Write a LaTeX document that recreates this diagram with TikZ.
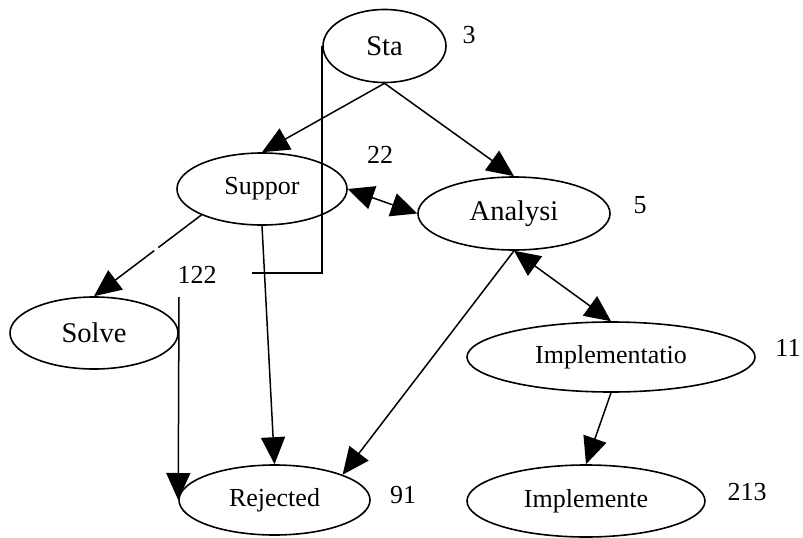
\documentclass[tikz,border=0pt]{standalone}
\usepackage{fontspec}
\setmainfont{Liberation Serif}
\usetikzlibrary{shapes.geometric,arrows.meta}
\begin{document}
\begin{tikzpicture}[x=1pt,y=-1pt,
  state/.style={draw,ellipse,line width=1.6pt,inner sep=0pt},
  big/.style={font=\fontsize{28.5}{32}\selectfont},
  small/.style={font=\fontsize{26}{30}\selectfont},
  lbl/.style={font=\fontsize{26}{30}\selectfont,inner sep=0pt},
  conn/.style={line width=1.5pt},
  arr/.style={conn,-{Triangle[length=27pt,width=24pt]}},
  darr/.style={conn,{Triangle[length=26pt,width=24pt]}-{Triangle[length=26pt,width=24pt]}}
]
\useasboundingbox (0,0) rectangle (803,538);
\node[state,big,minimum width=123pt,minimum height=73pt] (sta) at (384.5,46) {Sta};
\node[state,small,minimum width=170pt,minimum height=72pt] (sup) at (262,189) {Suppor};
\node[state,big,minimum width=192pt,minimum height=73pt] (ana) at (514,213.5) {Analysi};
\node[state,big,minimum width=168pt,minimum height=72pt] (sol) at (94,333) {Solve};
\node[state,small,minimum width=288pt,minimum height=70pt] (imp) at (611,357) {Implementatio};
\node[state,small,minimum width=191pt,minimum height=70pt] (rej) at (274.5,500) {Rejected};
\node[state,small,minimum width=238pt,minimum height=72pt] (impd) at (586,501) {Implemente};

\node[lbl] (l3) at (469,35) {3};
\node[lbl] (l22) at (380,155) {22};
\node[lbl] (l5) at (640,205) {5};
\node[lbl] (l122) at (197,275) {122};
\node[lbl] (l11) at (788,348) {11};
\node[lbl] (l91) at (403,495) {91};
\node[lbl] (l213) at (747,492) {213};

\draw[arr] (sta.south) -- (sup.north);
\draw[arr] (sta.south) -- (ana.north);
\draw[darr] (sup.east) -- (ana.west);
\draw[arr,dash pattern=on 54pt off 5pt on 300pt] (sup.south west) -- (sol.north);
\draw[arr] (sup.south) -- (rej.north);
\coordinate (c1) at (179,297);
\draw[arr] (c1) -- (rej.west);
\draw[arr] (ana.south) -- (rej.north east);
\draw[darr] (ana.south) -- (imp.north);
\draw[arr] (imp.south) -- (impd.north);
\coordinate (c3) at (252,273);
\draw[conn] (sta.west) |- (c3);
\end{tikzpicture}
\end{document}
